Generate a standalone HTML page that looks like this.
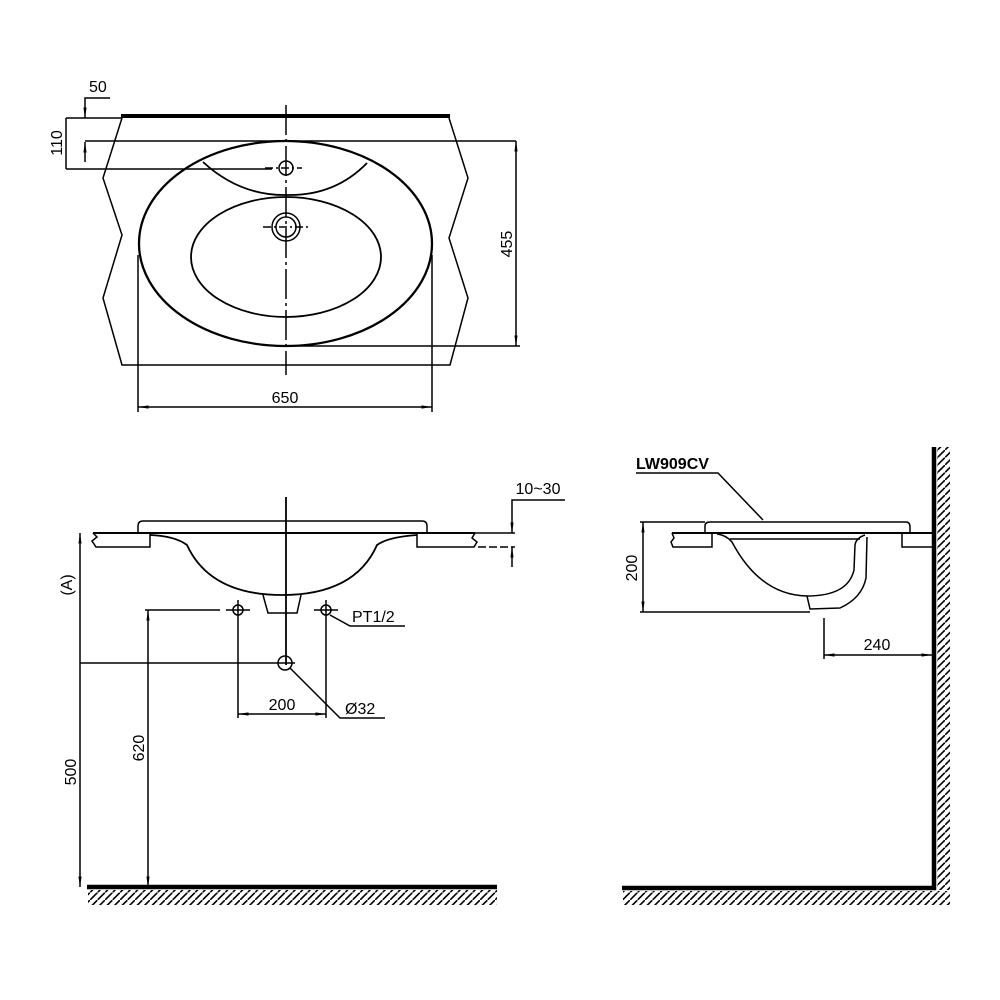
<!DOCTYPE html>
<html><head><meta charset="utf-8"><style>
html,body{margin:0;padding:0;background:#fff;}
svg{display:block;}
text{font-family:"Liberation Sans",Arial,sans-serif;font-size:16px;fill:#000;}
</style></head><body>
<svg width="1000" height="1000" viewBox="0 0 1000 1000" xmlns="http://www.w3.org/2000/svg">
<defs>
<marker id="a" viewBox="0 0 10 10" refX="10" refY="5" markerWidth="7" markerHeight="7" orient="auto-start-reverse"><path d="M0,3.5 L10,5 L0,6.5 z" fill="#000"/></marker>
<pattern id="h" width="7.5" height="7.5" patternUnits="userSpaceOnUse"><path d="M-1,8.5 L8.5,-1" stroke="#000" stroke-width="1.6"/></pattern>
</defs>
<g fill="none" stroke="#000" stroke-width="1.5">
<!-- TOP VIEW -->
<line x1="121" y1="116" x2="450" y2="116" stroke-width="4"/>
<polyline points="122,118 103,178 122,235 103,298 122,365 450,365 468,298 449,238 468,178 449,118"/>
<ellipse cx="285.5" cy="243.5" rx="146.5" ry="102.5" stroke-width="2.3"/>
<ellipse cx="286" cy="257" rx="95" ry="60" stroke-width="1.8"/>
<path d="M203,162 Q240,196 287,195 Q335,196 367,163" stroke-width="1.8"/>
<circle cx="286" cy="168" r="7"/>
<circle cx="286" cy="227" r="14"/><circle cx="286" cy="227" r="10"/>
<line x1="265" y1="168" x2="302" y2="168" stroke-dasharray="8,3,2,3"/>
<line x1="263" y1="227" x2="309" y2="227" stroke-dasharray="8,3,2,3"/>
<line x1="286" y1="105" x2="286" y2="375" stroke-dasharray="30,4,3,4"/>
<line x1="66" y1="118" x2="122" y2="118"/>
<polyline points="110,98 85,98 85,118" marker-end="url(#a)"/>
<line x1="85" y1="162" x2="85" y2="142" marker-end="url(#a)"/>
<line x1="85" y1="141" x2="516" y2="141"/>
<line x1="66" y1="118" x2="66" y2="169"/>
<line x1="66" y1="169" x2="272" y2="169"/>
<line x1="516" y1="141" x2="516" y2="346" marker-start="url(#a)" marker-end="url(#a)"/>
<line x1="290" y1="346" x2="520" y2="346"/>
<line x1="138" y1="255" x2="138" y2="412"/>
<line x1="432" y1="255" x2="432" y2="412"/>
<line x1="138" y1="407" x2="432" y2="407" marker-start="url(#a)" marker-end="url(#a)"/>

<!-- FRONT VIEW -->
<path d="M138,533 L138,526 Q138,521 143,521 L422,521 Q427,521 427,526 L427,533"/>
<line x1="93" y1="533" x2="475" y2="533" stroke-width="2"/>
<path d="M93,533 L97,537 L92,541 L96,547 L150,547 L150,533"/>
<path d="M475,533 L472,538 L477,542 L474,547 L417,547 L417,533"/>
<path d="M150,535 Q175,536 187,545 Q210,595 282,595 Q355,595 377,545 Q388,537 417,535" stroke-width="1.8"/>
<path d="M263,595 L268,613 L297,613 L301,595"/>
<line x1="286" y1="497" x2="286" y2="665" stroke-width="1.8"/>
<circle cx="238" cy="610" r="5"/><circle cx="326" cy="610" r="5"/>
<line x1="226" y1="610" x2="250" y2="610"/><line x1="238" y1="600" x2="238" y2="620"/>
<line x1="314" y1="610" x2="338" y2="610"/><line x1="326" y1="600" x2="326" y2="620"/>
<circle cx="285" cy="663" r="7"/>
<line x1="145" y1="610" x2="220" y2="610"/>
<line x1="80" y1="663" x2="295" y2="663"/>
<line x1="80" y1="533" x2="80" y2="887" marker-start="url(#a)" marker-end="url(#a)"/>
<line x1="148" y1="610" x2="148" y2="887" marker-start="url(#a)" marker-end="url(#a)"/>
<line x1="238" y1="620" x2="238" y2="718"/>
<line x1="326" y1="620" x2="326" y2="718"/>
<line x1="238" y1="714" x2="326" y2="714" marker-start="url(#a)" marker-end="url(#a)"/>
<polyline points="330,615 350,626 405,626"/>
<polyline points="290,668 340,718 385,718"/>
<line x1="475" y1="533" x2="515" y2="533"/>
<line x1="478" y1="547" x2="515" y2="547" stroke-dasharray="8,3"/>
<polyline points="565,500 512,500 512,533" marker-end="url(#a)"/>
<line x1="512" y1="567" x2="512" y2="547" marker-end="url(#a)"/>
<line x1="87" y1="887" x2="497" y2="887" stroke-width="4.5"/>
<rect x="88" y="890" width="409" height="15" fill="url(#h)" stroke="none"/>

<!-- SIDE VIEW -->
<path d="M705,533 L705,526 Q705,522 710,522 L906,522 Q910,522 910,527 L910,533"/>
<line x1="672" y1="533" x2="934" y2="533" stroke-width="2"/>
<path d="M672,533 L674,538 L671,542 L673,547 L712,547 L712,533"/>
<path d="M934,533 L902,533 L902,547 L934,547"/>
<line x1="730" y1="539" x2="860" y2="539"/>
<path d="M717,534 Q726,535 732,542 Q760,595 807,596 Q848,596 854,570 L855,545 Q856,538 865,535"/>
<path d="M867,537 L866,578 Q862,598 840,608 L810,609 L807,596"/>
<line x1="643" y1="522" x2="643" y2="612" marker-start="url(#a)" marker-end="url(#a)"/>
<line x1="640" y1="522" x2="705" y2="522"/>
<line x1="640" y1="612" x2="810" y2="612"/>
<line x1="824" y1="618" x2="824" y2="659"/>
<line x1="824" y1="655" x2="932" y2="655" marker-start="url(#a)" marker-end="url(#a)"/>
<polyline points="636,473 718,473 763,520"/>
<line x1="934" y1="447" x2="934" y2="890" stroke-width="4.5"/>
<rect x="937" y="447" width="13" height="443" fill="url(#h)" stroke="none"/>
<line x1="622" y1="888" x2="936" y2="888" stroke-width="4.5"/>
<rect x="623" y="891" width="327" height="14" fill="url(#h)" stroke="none"/>
</g>
<g>
<text x="89" y="92">50</text>
<text x="62" y="143" transform="rotate(-90 62 143)" text-anchor="middle">110</text>
<text x="512" y="244" transform="rotate(-90 512 244)" text-anchor="middle">455</text>
<text x="285" y="403" text-anchor="middle">650</text>
<text x="538" y="494" text-anchor="middle">10~30</text>
<text x="72" y="585" transform="rotate(-90 72 585)" text-anchor="middle">(A)</text>
<text x="76" y="772" transform="rotate(-90 76 772)" text-anchor="middle">500</text>
<text x="144" y="748" transform="rotate(-90 144 748)" text-anchor="middle">620</text>
<text x="352" y="622">PT1/2</text>
<text x="282" y="710" text-anchor="middle">200</text>
<text x="345" y="714">Ø32</text>
<text x="636" y="469" style="font-weight:bold">LW909CV</text>
<text x="637" y="568" transform="rotate(-90 637 568)" text-anchor="middle">200</text>
<text x="877" y="650" text-anchor="middle">240</text>
</g>
</svg>
</body></html>
